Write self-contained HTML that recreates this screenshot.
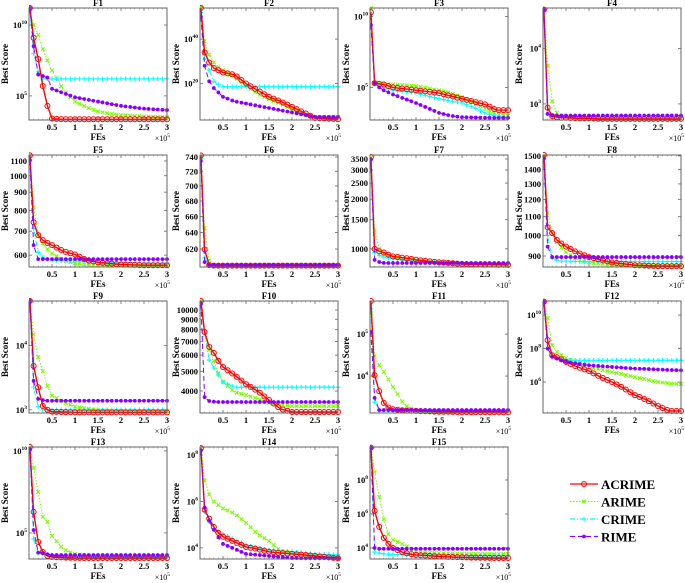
<!DOCTYPE html>
<html><head><meta charset="utf-8">
<style>
html,body{margin:0;padding:0;background:#fff;}
svg{display:block;font-family:"Liberation Serif",serif;font-weight:bold;}
</style></head>
<body>
<svg id="chart" width="685" height="583" viewBox="0 0 685 583"></svg>
<script>
// Shared x sample positions (FEs, x 10^5)
const X = [0.02,0.1,0.2,0.3,0.4,0.5,0.75,1,1.25,1.5,1.75,2,2.25,2.5,2.75,3];
const xTicks = [0.5,1,1.5,2,2.5,3];
const seriesNames = ['ACRIME','ARIME','CRIME','RIME'];
const titles = ['F1','F2','F3','F4','F5','F6','F7','F8','F9','F10','F11','F12','F13','F14','F15'];
const yLo = [3.3,3.6,2.7,2.71,2.745,2.7774,2.89,2.930,2.95,3.494,3.12,4.15,3.41,3.52,3.35];
const yHi = [11.2,54,10.6,4.73,3.058,2.8709,3.568,3.178,4.69,4.044,5.79,10.84,10.24,8.35,9.94];
const tickKind = ['pow','pow','pow','pow','plain','plain','plain','plain','pow','plain','pow','pow','pow','pow','pow'];
const yTicks = [[5,10],[20,40],[5,10],[3,4],[600,700,800,900,1000,1100],[620,640,660,680,700,720,740],
 [1000,1500,2000,2500,3000,3500],[900,1000,1100,1200,1300,1400,1500],[3,4],
 [4000,5000,6000,7000,8000,9000,10000],[4,5],[6,8,10],[5,10],[4,6,8],[4,6,8]];

// Best score values, log10 of best score at X
const F1_ACRIME=[11.2,9.1,7.6,5.7,4.3,3.4,3.35,3.35,3.35,3.35,3.35,3.35,3.35,3.35,3.35,3.35];
const F1_ARIME=[11,10,9.3,8.3,7.5,6.8,5.4,4.6,4.2,3.9,3.75,3.65,3.6,3.55,3.52,3.5];
const F1_CRIME=[11,8,6.7,6.2,6.2,6.2,6.2,6.2,6.2,6.2,6.2,6.2,6.2,6.2,6.2,6.2];
const F1_RIME=[11.2,8.5,6.5,6.4,6.3,5.5,5.2,4.9,4.75,4.6,4.45,4.3,4.2,4.1,4.05,4.0];

const F2_ACRIME=[54,34,29.5,27,26,25,24,20,17,14,12,9.5,7,4.5,4.2,4];
const F2_ARIME=[55,39,33,29.5,27.5,26,23,19,15.5,13,11,8.6,6,5,5,5];
const F2_CRIME=[52,31,26,21,19.5,18.6,18.6,18.6,18.6,18.6,18.6,18.6,18.6,18.6,18.6,18.6];
const F2_RIME=[50,28,21,18,16,14,12,11,10,9,8,7,6,5,5,5];

const F3_ACRIME=[10.3,5.3,5.25,5.2,5.1,5.0,4.9,4.8,4.7,4.6,4.4,4.2,4.0,3.8,3.4,3.4];
const F3_ARIME=[10.6,5.3,5.3,5.25,5.22,5.2,5.15,5.1,4.95,4.8,4.6,4.3,3.9,3.5,3.1,3.0];
const F3_CRIME=[10.1,5.3,5.1,5.0,4.9,4.8,4.7,4.6,4.4,4.2,4.05,3.9,3.6,3.2,2.95,2.9];
const F3_RIME=[9.4,5.3,5.0,4.8,4.65,4.5,4.2,3.9,3.55,3.2,3.0,2.9,2.88,2.86,2.85,2.85];

const F4_ACRIME=[4.7,2.93,2.78,2.76,2.75,2.75,2.74,2.74,2.73,2.73,2.73,2.73,2.73,2.73,2.73,2.73];
const F4_ARIME=[4.7,3.69,3.05,2.84,2.79,2.77,2.76,2.75,2.75,2.75,2.74,2.74,2.74,2.74,2.74,2.74];
const F4_CRIME=[4.7,2.82,2.78,2.77,2.77,2.77,2.77,2.76,2.76,2.76,2.76,2.76,2.76,2.76,2.76,2.76];
const F4_RIME=[4.7,2.82,2.79,2.79,2.79,2.79,2.79,2.79,2.79,2.79,2.79,2.79,2.79,2.79,2.79,2.79];

const F5_ACRIME=[3.057,2.870,2.834,2.82,2.812,2.806,2.789,2.78,2.764,2.758,2.755,2.752,2.751,2.75,2.75,2.75];
const F5_ARIME=[3.058,2.912,2.834,2.81,2.795,2.783,2.764,2.755,2.752,2.75,2.749,2.749,2.748,2.748,2.748,2.748];
const F5_CRIME=[3.04,2.853,2.786,2.772,2.767,2.764,2.762,2.762,2.76,2.759,2.758,2.757,2.757,2.756,2.756,2.756];
const F5_RIME=[3.044,2.806,2.767,2.767,2.767,2.767,2.767,2.767,2.767,2.767,2.767,2.767,2.767,2.767,2.767,2.767];

const F6_ACRIME=[2.8705,2.792,2.779,2.7785,2.7785,2.7785,2.7785,2.7785,2.7785,2.7785,2.7785,2.7785,2.7785,2.7785,2.7785,2.7785];
const F6_ARIME=[2.869,2.810,2.783,2.7785,2.7785,2.7785,2.7785,2.7785,2.7785,2.7785,2.7785,2.7785,2.7785,2.7785,2.7785,2.7785];
const F6_CRIME=[2.868,2.785,2.779,2.7785,2.7785,2.7785,2.7785,2.7785,2.7785,2.7785,2.7785,2.7785,2.7785,2.7785,2.7785,2.7785];
const F6_RIME=[2.866,2.7815,2.779,2.779,2.779,2.779,2.779,2.779,2.779,2.779,2.779,2.779,2.779,2.779,2.779,2.779];

const F7_ACRIME=[3.556,3.0,2.985,2.978,2.965,2.954,2.945,2.934,2.925,2.919,2.914,2.908,2.906,2.905,2.904,2.903];
const F7_ARIME=[3.55,3.11,3.0,2.97,2.96,2.954,2.94,2.93,2.92,2.914,2.909,2.905,2.903,2.902,2.901,2.9];
const F7_CRIME=[3.54,2.978,2.96,2.95,2.944,2.94,2.93,2.924,2.92,2.918,2.916,2.914,2.913,2.912,2.911,2.911];
const F7_RIME=[3.54,2.933,2.92,2.915,2.914,2.914,2.914,2.914,2.914,2.914,2.914,2.914,2.914,2.914,2.914,2.914];

const F8_ACRIME=[3.178,3.018,3.005,2.99,2.982,2.975,2.962,2.952,2.946,2.94,2.937,2.934,2.933,2.932,2.932,2.932];
const F8_ARIME=[3.176,3.05,3.005,2.985,2.973,2.963,2.946,2.94,2.937,2.935,2.934,2.933,2.933,2.933,2.933,2.933];
const F8_CRIME=[3.17,3.0,2.95,2.945,2.943,2.943,2.942,2.942,2.942,2.942,2.942,2.942,2.942,2.942,2.942,2.942];
const F8_RIME=[3.17,2.975,2.952,2.952,2.952,2.952,2.952,2.952,2.952,2.952,2.952,2.952,2.952,2.952,2.952,2.952];

const F9_ACRIME=[4.69,3.68,3.35,3.06,3.0,2.97,2.965,2.96,2.96,2.96,2.96,2.96,2.96,2.96,2.96,2.96];
const F9_ARIME=[4.69,4.17,3.82,3.6,3.37,3.22,3.12,3.05,3.02,2.99,2.985,2.98,2.98,2.98,2.98,2.98];
const F9_CRIME=[4.69,3.35,3.05,3.0,3.0,3.0,3.0,3.0,3.0,3.0,3.0,3.0,3.0,3.0,3.0,3.0];
const F9_RIME=[4.69,3.45,3.17,3.15,3.14,3.14,3.14,3.14,3.14,3.14,3.14,3.14,3.14,3.14,3.14,3.14];

const F10_ACRIME=[4.044,3.892,3.818,3.789,3.75,3.72,3.68,3.636,3.602,3.558,3.514,3.499,3.499,3.499,3.499,3.499];
const F10_ARIME=[4.044,3.877,3.803,3.75,3.69,3.646,3.597,3.582,3.565,3.543,3.535,3.528,3.528,3.528,3.528,3.528];
const F10_CRIME=[4.03,3.887,3.754,3.715,3.68,3.646,3.621,3.621,3.621,3.621,3.621,3.621,3.621,3.621,3.621,3.621];
const F10_RIME=[4.03,3.572,3.553,3.55,3.548,3.548,3.548,3.548,3.548,3.548,3.548,3.548,3.548,3.548,3.548,3.548];

const F11_ACRIME=[5.79,4.02,3.64,3.36,3.25,3.21,3.18,3.17,3.16,3.15,3.15,3.14,3.14,3.14,3.14,3.14];
const F11_ARIME=[5.5,4.48,4.26,4.1,3.92,3.74,3.31,3.17,3.17,3.17,3.17,3.17,3.17,3.17,3.17,3.17];
const F11_CRIME=[5.6,3.38,3.19,3.18,3.17,3.17,3.17,3.17,3.17,3.17,3.17,3.17,3.17,3.17,3.17,3.17];
const F11_RIME=[5.05,3.48,3.19,3.19,3.19,3.19,3.19,3.19,3.19,3.19,3.19,3.19,3.19,3.19,3.19,3.19];

const F12_ACRIME=[10.8,8.5,7.6,7.49,7.35,7.2,6.9,6.66,6.3,6.0,5.64,5.22,4.93,4.57,4.27,4.27];
const F12_ARIME=[10.8,9.82,8.2,7.8,7.6,7.43,7.2,6.9,6.75,6.6,6.45,6.3,6.15,6.0,5.92,5.88];
const F12_CRIME=[10.8,8.0,7.6,7.45,7.35,7.3,7.3,7.3,7.3,7.3,7.3,7.3,7.3,7.3,7.3,7.3];
const F12_RIME=[10.8,8.0,7.5,7.4,7.3,7.2,7.1,7.0,6.95,6.9,6.85,6.8,6.78,6.75,6.72,6.7];

const F13_ACRIME=[10.24,6.28,4.45,3.84,3.6,3.53,3.5,3.48,3.47,3.47,3.47,3.47,3.47,3.47,3.47,3.47];
const F13_ARIME=[10.2,8.96,7.5,5.98,5.67,4.82,4.0,3.7,3.62,3.6,3.6,3.6,3.6,3.6,3.6,3.6];
const F13_CRIME=[10.1,4.63,3.78,3.7,3.68,3.65,3.6,3.58,3.56,3.55,3.55,3.55,3.55,3.55,3.55,3.55];
const F13_RIME=[10.1,5.18,3.8,3.78,3.7,3.65,3.65,3.65,3.65,3.65,3.65,3.65,3.65,3.65,3.65,3.65];

const F14_ACRIME=[8.3,5.65,5.26,4.9,4.65,4.48,4.26,4.04,3.95,3.83,3.78,3.74,3.7,3.65,3.6,3.55];
const F14_ARIME=[8.3,6.9,6.3,6.0,5.85,5.7,5.48,5.08,4.6,4.3,3.87,3.78,3.72,3.65,3.6,3.55];
const F14_CRIME=[8.2,5.56,5.13,4.83,4.7,4.6,4.35,4.13,4.0,3.91,3.86,3.83,3.78,3.74,3.72,3.7];
const F14_RIME=[8.2,5.74,5.17,4.78,4.45,4.17,3.96,3.74,3.7,3.65,3.6,3.56,3.55,3.55,3.55,3.55];

const F15_ACRIME=[9.9,6.18,5.24,4.59,4.25,4.0,3.7,3.59,3.55,3.5,3.47,3.45,3.43,3.42,3.41,3.41];
const F15_ARIME=[9.9,8.47,7.0,5.7,4.82,4.47,4.18,3.76,3.72,3.7,3.68,3.67,3.66,3.65,3.65,3.65];
const F15_CRIME=[9.9,3.76,3.7,3.65,3.63,3.62,3.6,3.58,3.57,3.56,3.55,3.55,3.54,3.54,3.53,3.53];
const F15_RIME=[9.9,4.0,3.95,3.95,3.95,3.95,3.95,3.95,3.95,3.95,3.95,3.95,3.95,3.95,3.95,3.95];

const panelData = [
 [F1_ACRIME,F1_ARIME,F1_CRIME,F1_RIME],[F2_ACRIME,F2_ARIME,F2_CRIME,F2_RIME],
 [F3_ACRIME,F3_ARIME,F3_CRIME,F3_RIME],[F4_ACRIME,F4_ARIME,F4_CRIME,F4_RIME],
 [F5_ACRIME,F5_ARIME,F5_CRIME,F5_RIME],[F6_ACRIME,F6_ARIME,F6_CRIME,F6_RIME],
 [F7_ACRIME,F7_ARIME,F7_CRIME,F7_RIME],[F8_ACRIME,F8_ARIME,F8_CRIME,F8_RIME],
 [F9_ACRIME,F9_ARIME,F9_CRIME,F9_RIME],[F10_ACRIME,F10_ARIME,F10_CRIME,F10_RIME],
 [F11_ACRIME,F11_ARIME,F11_CRIME,F11_RIME],[F12_ACRIME,F12_ARIME,F12_CRIME,F12_RIME],
 [F13_ACRIME,F13_ARIME,F13_CRIME,F13_RIME],[F14_ACRIME,F14_ARIME,F14_CRIME,F14_RIME],
 [F15_ACRIME,F15_ARIME,F15_CRIME,F15_RIME]];

const NS='http://www.w3.org/2000/svg';
const svg=document.getElementById('chart');
const colLeft=[29,200,370,543], rowTop=[8,155,301,447], PW=138, PH=112;
const colors=['#ff0000','#7cfc00','#00ffff','#8a00ff'];
const dashes=['none','1.5,1.5','5,2,1,2','5,3'];
function mk(tag,attrs,parent){const e=document.createElementNS(NS,tag);for(const k in attrs)e.setAttribute(k,attrs[k]);(parent||svg).appendChild(e);return e;}
function interp(xs,ys,x){for(let i=1;i<xs.length;i++){if(x<=xs[i]){const t=(x-xs[i-1])/(xs[i]-xs[i-1]);return ys[i-1]+t*(ys[i]-ys[i-1]);}}return ys[ys.length-1];}
function marker(g,k,x,y){
  const c=colors[k];let m;
  if(k===0){m=mk('circle',{cx:x,cy:y,r:2.5,fill:'none',stroke:c,'stroke-width':1},g);}
  else if(k===1){m=mk('path',{d:`M${x-1.8},${y-1.8}L${x+1.8},${y+1.8}M${x-1.8},${y+1.8}L${x+1.8},${y-1.8}`,stroke:c,'stroke-width':1.1},g);}
  else if(k===2){m=mk('path',{d:`M${x-2.3},${y}L${x+2.3},${y}M${x},${y-2.3}L${x},${y+2.3}`,stroke:c,'stroke-width':1.1},g);}
  else {m=mk('circle',{cx:x,cy:y,r:1.9,fill:c},g);}
  
  
}
for(let p=0;p<15;p++){
  const L=colLeft[p%4], T=rowTop[Math.floor(p/4)];
  const lo=yLo[p], hi=yHi[p];
  const sx=v=>L+v/3*PW;
  const sy=lv=>T+PH-(lv-lo)/(hi-lo)*PH;
  const g=mk('g',{});
  
  
  const t=mk('text',{x:L+PW/2,y:T-2,'text-anchor':'middle','font-size':9},g);t.textContent=titles[p];
  
  const cid='clip'+p;const cp=mk('clipPath',{id:cid},g);mk('rect',{x:L,y:T-3,width:PW+3,height:PH+6},cp);
  for(const v of xTicks){const x=sx(v);
    mk('line',{x1:x,y1:T+PH,x2:x,y2:T+PH-3,stroke:'#666','stroke-width':0.8},g);
    mk('line',{x1:x,y1:T,x2:x,y2:T+3,stroke:'#666','stroke-width':0.8},g);
    const tl=mk('text',{x:x,y:T+PH+10,'text-anchor':'middle','font-size':8.5},g);tl.textContent=String(v);
    }
  for(let v=0.1;v<3;v+=0.1){const x=sx(v);mk('line',{x1:x,y1:T+PH,x2:x,y2:T+PH-1.5,stroke:'#888','stroke-width':0.5},g);mk('line',{x1:x,y1:T,x2:x,y2:T+1.5,stroke:'#888','stroke-width':0.5},g);}
  for(const v of yTicks[p]){
    const lv=tickKind[p]==='pow'?v:Math.log10(v);const y=sy(lv);
    mk('line',{x1:L,y1:y,x2:L+3,y2:y,stroke:'#666','stroke-width':0.8},g);
    mk('line',{x1:L+PW,y1:y,x2:L+PW-3,y2:y,stroke:'#666','stroke-width':0.8},g);
    const tl=mk('text',{x:L-2,y:y+3,'text-anchor':'end','font-size':8.5},g);
    if(tickKind[p]==='pow'){tl.textContent='10';const s=mk('tspan',{dy:-4,'font-size':5.5},tl);s.textContent=String(v);}
    else tl.textContent=String(v);
    
  }
  const sg=mk('g',{'clip-path':`url(#${cid})`},g);
  
  const order=[1,2,0,3];
  for(const k of order){
    const ys=panelData[p][k];
    const pts=X.map((xv,i)=>sx(xv).toFixed(1)+','+sy(ys[i]).toFixed(1)).join(' ');
    const pl=mk('polyline',{points:pts,fill:'none',stroke:colors[k],'stroke-width':k===0?1.4:1,'stroke-dasharray':dashes[k]},sg);
    
    
    marker(sg,k,sx(X[0]),sy(ys[0]));
    for(let xv=0.1;xv<=3.001;xv+=0.1){marker(sg,k,sx(xv),sy(interp(X,ys,xv)));}
  }
  const box=mk('rect',{x:L,y:T,width:PW,height:PH,fill:'none',stroke:'#666','stroke-width':1},g);
  
  const yl=mk('text',{x:0,y:0,'text-anchor':'middle','font-size':9,transform:`translate(${L-21},${T+PH/2}) rotate(-90)`},g);
  yl.textContent='Best Score';
  const xl=mk('text',{x:L+PW/2,y:T+PH+20,'text-anchor':'middle','font-size':9},g);
  xl.textContent='FEs';
  const ex=mk('text',{x:L+PW+3,y:T+PH+21,'text-anchor':'end','font-size':8,'font-weight':'normal'},g);
  ex.textContent='\u00d710';const es=mk('tspan',{dy:-4,'font-size':5.5},ex);es.textContent='5';
  
}
const lg=mk('g',{});


for(let k=0;k<4;k++){
  const y=484+k*17.5;
  const e=mk('g',{},lg);
  
  
  mk('line',{x1:570,y1:y,x2:598,y2:y,stroke:colors[k],'stroke-width':1.3,'stroke-dasharray':dashes[k]},e);
  marker(e,k,584,y);
  const t=mk('text',{x:601,y:y+5,'font-size':13},e);t.textContent=seriesNames[k];
}
</script>
</body></html>
